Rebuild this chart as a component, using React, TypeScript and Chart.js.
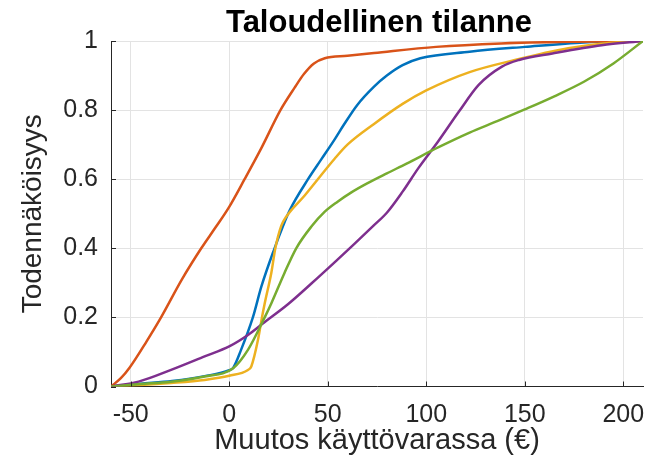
import React, { useEffect, useRef } from 'react';
import { Chart, registerables } from 'chart.js';

Chart.register(...registerables);

const FONT = '"Liberation Sans", Arial, Helvetica, sans-serif';

const titleText = 'Taloudellinen tilanne';
const xLabel = 'Muutos käyttövarassa (€)';
const yLabel = 'Todennäköisyys';

const xTickValues = [-50, 0, 50, 100, 150, 200];
const yTickValues = [0, 0.2, 0.4, 0.6, 0.8, 1];

const blueX = [-60, -45, -29, -12.5, 0, 2, 6, 12, 16.3, 23, 27, 30.7, 40, 46.8, 53.6, 58, 65, 73.5, 80, 88, 97, 122, 150, 180, 210];
const blueY = [0, 0.008, 0.016, 0.03, 0.047, 0.054, 0.106, 0.2, 0.289, 0.4, 0.46, 0.51, 0.6, 0.658, 0.716, 0.756, 0.815, 0.868, 0.9, 0.93, 0.95, 0.969, 0.983, 0.996, 1];

const orangeX = [-60, -55, -50.5, -42, -34.6, -24, -14.2, -7, 0, 7.8, 16.3, 26, 33.2, 38, 43, 48.5, 60, 73.5, 105, 138, 175, 210];
const orangeY = [0, 0.024, 0.055, 0.13, 0.2, 0.31, 0.4, 0.46, 0.52, 0.6, 0.69, 0.8, 0.865, 0.905, 0.935, 0.95, 0.957, 0.965, 0.983, 0.993, 0.998, 1];

const yellowX = [-60, -45, -29.5, -12.5, 0, 9.5, 11.2, 14.6, 16.3, 18, 21.4, 23.4, 26.4, 29, 38.3, 53.6, 60, 73.5, 88, 100, 122, 145, 172, 190, 210];
const yellowY = [0, 0.004, 0.01, 0.019, 0.031, 0.048, 0.058, 0.135, 0.19, 0.24, 0.33, 0.4, 0.465, 0.492, 0.553, 0.66, 0.7, 0.76, 0.818, 0.857, 0.91, 0.945, 0.979, 0.993, 1];

const purpleX = [-60, -46, -29.5, -12.5, 0, 9.5, 17.9, 29.8, 41.7, 53.6, 63.4, 73.5, 80, 88, 96, 106, 116.5, 126.6, 138.4, 147, 164, 189, 210];
const purpleY = [0, 0.014, 0.048, 0.087, 0.116, 0.149, 0.186, 0.238, 0.298, 0.36, 0.412, 0.467, 0.503, 0.564, 0.632, 0.709, 0.795, 0.873, 0.926, 0.945, 0.964, 0.988, 1];

const greenX = [-60, -45, -29.5, -12.5, 2, 9.5, 18, 21.4, 28, 34, 41.7, 48.5, 55, 62, 70, 80, 90, 106, 122, 136, 150, 165, 180, 195, 210];
const greenY = [0, 0.007, 0.014, 0.029, 0.053, 0.106, 0.2, 0.241, 0.328, 0.4, 0.463, 0.506, 0.535, 0.562, 0.588, 0.617, 0.645, 0.692, 0.735, 0.768, 0.802, 0.84, 0.882, 0.935, 1];

const toPoints = (xs: number[], ys: number[]) => xs.map((x, i) => ({ x, y: ys[i] }));

export default function App() {
  const ref = useRef<HTMLCanvasElement>(null);

  useEffect(() => {
    document.body.style.margin = '0';
    const canvas = ref.current;
    if (!canvas) return;

    const titlePlugin = {
      id: 'centeredTitle',
      afterDraw(chart: any) {
        const { ctx, chartArea } = chart;
        ctx.save();
        ctx.font = `bold 31px ${FONT}`;
        ctx.fillStyle = '#000';
        ctx.textAlign = 'center';
        ctx.textBaseline = 'alphabetic';
        ctx.fillText(titleText, (chartArea.left + chartArea.right) / 2 + 2, 32);
        ctx.restore();
      },
    };

    const inwardTicks = {
      id: 'inwardTicks',
      afterDatasetsDraw(chart: any) {
        const { ctx, chartArea, scales } = chart;
        ctx.save();
        ctx.strokeStyle = '#262626';
        ctx.lineWidth = 1;
        ctx.beginPath();
        xTickValues.forEach((v) => {
          const px = Math.round(scales.x.getPixelForValue(v)) + 0.5;
          ctx.moveTo(px, chartArea.bottom);
          ctx.lineTo(px, chartArea.bottom - 5);
        });
        yTickValues.forEach((v) => {
          const py = Math.round(scales.y.getPixelForValue(v)) + 0.5;
          ctx.moveTo(chartArea.left, py);
          ctx.lineTo(chartArea.left + 5, py);
        });
        ctx.stroke();
        ctx.restore();
      },
    };

    const ds = (label: string, xs: number[], ys: number[], color: string) => ({
      label,
      data: toPoints(xs, ys),
      borderColor: color,
      backgroundColor: color,
      borderWidth: 2.5,
      pointRadius: 0,
      fill: false,
      cubicInterpolationMode: 'monotone' as const,
    });

    const chart = new Chart(canvas, {
      type: 'line',
      data: {
        datasets: [
          ds('green', greenX, greenY, '#77AC30'),
          ds('purple', purpleX, purpleY, '#7E2F8E'),
          ds('yellow', yellowX, yellowY, '#EDB120'),
          ds('orange', orangeX, orangeY, '#D95319'),
          ds('blue', blueX, blueY, '#0072BD'),
        ],
      },
      options: {
        animation: false,
        responsive: true,
        maintainAspectRatio: false,
        layout: { padding: { left: 0, right: 7, top: 41, bottom: 0 } },
        plugins: {
          legend: { display: false },
          tooltip: { enabled: false },
          title: { display: false },
        },
        scales: {
          x: {
            type: 'linear',
            min: -60,
            max: 210,
            afterFit: (s: any) => {
              s.height = 79.5;
              s.paddingLeft = 0;
              s.paddingRight = 0;
            },
            ticks: {
              stepSize: 50,
              includeBounds: false,
              maxRotation: 0,
              padding: 14,
              color: '#262626',
              font: { family: FONT, size: 25 },
            },
            grid: { color: '#e3e3e3', drawTicks: false, lineWidth: 1 },
            border: { color: '#262626', width: 1 },
            title: {
              display: true,
              text: xLabel,
              color: '#262626',
              font: { family: FONT, size: 29 },
              padding: { top: 0, bottom: 8 },
            },
          },
          y: {
            type: 'linear',
            min: 0,
            max: 1,
            afterFit: (s: any) => {
              s.width = 111;
              s.paddingTop = 0;
              s.paddingBottom = 0;
            },
            ticks: {
              stepSize: 0.2,
              padding: 13,
              color: '#262626',
              font: { family: FONT, size: 25 },
              callback: (v: any) => String(Math.round(Number(v) * 10) / 10),
            },
            grid: { color: '#e3e3e3', drawTicks: false, lineWidth: 1 },
            border: { color: '#262626', width: 1 },
            title: {
              display: true,
              text: yLabel,
              color: '#262626',
              font: { family: FONT, size: 28 },
              padding: { top: 16, bottom: 0 },
            },
          },
        },
      },
      plugins: [titlePlugin, inwardTicks],
    });

    return () => chart.destroy();
  }, []);

  return (
    <div style={{ position: 'relative', width: 650, height: 466 }}>
      <canvas ref={ref} />
    </div>
  );
}
